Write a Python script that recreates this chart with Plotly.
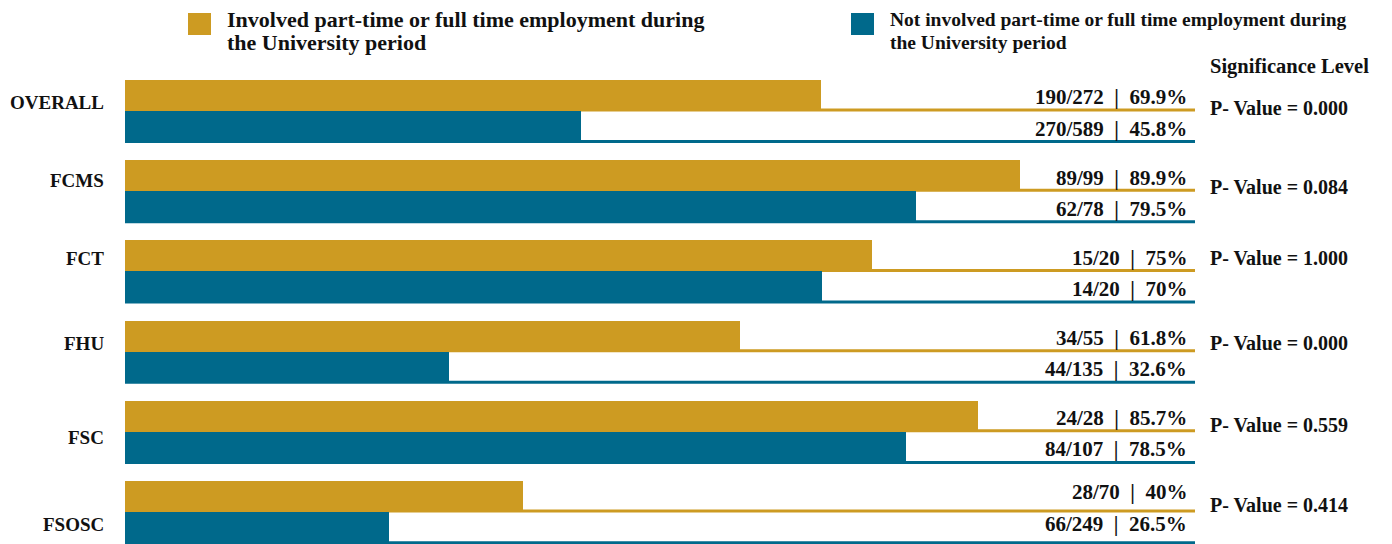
import plotly.graph_objects as go

categories = ["OVERALL", "FCMS", "FCT", "FHU", "FSC", "FSOSC"]
involved_n = [190, 89, 15, 34, 24, 28]
involved_total = [272, 99, 20, 55, 28, 70]
involved_pct = [69.9, 89.9, 75, 61.8, 85.7, 40]
not_involved_n = [270, 62, 14, 44, 84, 66]
not_involved_total = [589, 78, 20, 135, 107, 249]
not_involved_pct = [45.8, 79.5, 70, 32.6, 78.5, 26.5]
p_values = [0.000, 0.084, 1.000, 0.000, 0.559, 0.414]

legend_lines = [
    ["Involved part-time or full time employment during", "the University period"],
    ["Not involved part-time or full time employment during", "the University period"],
]

GOLD = "#CD9B22"
TEAL = "#00698B"
FONT = "Liberation Serif"
TXT = "#111111"
BW = 0.387
XMAX = 107.5

# page offset compensation (body margin of 8px)
L, T, PW, PH = 117, 62, 1070, 474

pos = list(range(len(categories)))

fig = go.Figure()
fig.add_trace(go.Bar(
    y=pos, x=involved_pct, orientation="h", width=BW, offset=-BW,
    marker=dict(color=GOLD, line=dict(width=0)), name="Involved",
    showlegend=False, hoverinfo="x",
))
fig.add_trace(go.Bar(
    y=pos, x=not_involved_pct, orientation="h", width=BW, offset=0,
    marker=dict(color=TEAL, line=dict(width=0)), name="Not involved",
    showlegend=False, hoverinfo="x",
))

shapes = []
annotations = []
label_dy = [-0.10, -0.137, -0.167, -0.107, 0.065, 0.15]
p_dy = [-0.04, -0.05, -0.17, -0.11, -0.085, -0.09]
val_shift = [-2, -2, -2, -2, -2, 4]
SEP = "&nbsp;&nbsp;|&nbsp;&nbsp;"


def px(page_x):
    return (page_x - 125) / PW


def py(page_y):
    return 1 + (70 - page_y) / PH


for i, c in enumerate(pos):
    shapes.append(dict(type="line", xref="x", yref="y", x0=0, x1=XMAX,
                       y0=c - 0.012, y1=c - 0.012, layer="below",
                       line=dict(color=GOLD, width=3)))
    shapes.append(dict(type="line", xref="x", yref="y", x0=0, x1=XMAX,
                       y0=c + BW - 0.005, y1=c + BW - 0.005, layer="below",
                       line=dict(color=TEAL, width=3)))
    annotations.append(dict(xref="paper", yref="y", x=0, y=c + label_dy[i],
                            xanchor="right", yanchor="middle", xshift=-19,
                            text="<b>%s</b>" % categories[i], showarrow=False,
                            font=dict(family=FONT, size=19, color=TXT)))
    annotations.append(dict(xref="x", yref="y", x=106.9, y=c - BW / 2,
                            xanchor="right", yanchor="middle", yshift=val_shift[i],
                            text="<b>%d/%d%s%g%%</b>" % (involved_n[i], involved_total[i], SEP, involved_pct[i]),
                            showarrow=False, font=dict(family=FONT, size=21, color=TXT)))
    annotations.append(dict(xref="x", yref="y", x=106.9, y=c + BW / 2,
                            xanchor="right", yanchor="middle", yshift=val_shift[i],
                            text="<b>%d/%d%s%g%%</b>" % (not_involved_n[i], not_involved_total[i], SEP, not_involved_pct[i]),
                            showarrow=False, font=dict(family=FONT, size=21, color=TXT)))
    annotations.append(dict(xref="paper", yref="y", x=1.0, y=c + p_dy[i],
                            xanchor="left", yanchor="middle", xshift=13,
                            text="<b>P- Value = %.3f</b>" % p_values[i],
                            showarrow=False, font=dict(family=FONT, size=20, color=TXT)))

annotations.append(dict(xref="paper", yref="paper", x=1.0, y=py(66),
                        xanchor="left", yanchor="middle", xshift=13,
                        text="<b>Significance Level</b>", showarrow=False,
                        font=dict(family=FONT, size=20.5, color=TXT)))

for lx, col, lines, fs in [(188, GOLD, legend_lines[0], 22), (851, TEAL, legend_lines[1], 19.5)]:
    shapes.append(dict(type="rect", xref="paper", yref="paper",
                       x0=px(lx), x1=px(lx + 23), y0=py(35), y1=py(13),
                       fillcolor=col, line=dict(width=0)))
    for ly, line in zip([20, 43], lines):
        annotations.append(dict(xref="paper", yref="paper",
                                x=px(lx + 37), y=py(ly),
                                xanchor="left", yanchor="middle", align="left",
                                text="<b>%s</b>" % line, showarrow=False,
                                font=dict(family=FONT, size=fs, color=TXT)))

fig.update_layout(
    width=L + PW + 197, height=T + PH,
    margin=dict(l=L, r=197, t=T, b=0),
    plot_bgcolor="white", paper_bgcolor="white",
    barmode="overlay", bargap=0,
    xaxis=dict(range=[0, XMAX], visible=False, fixedrange=True),
    yaxis=dict(range=[5.399, -0.511], visible=False, fixedrange=True),
    shapes=shapes, annotations=annotations,
    showlegend=False,
)

fig.write_html("out.html")
